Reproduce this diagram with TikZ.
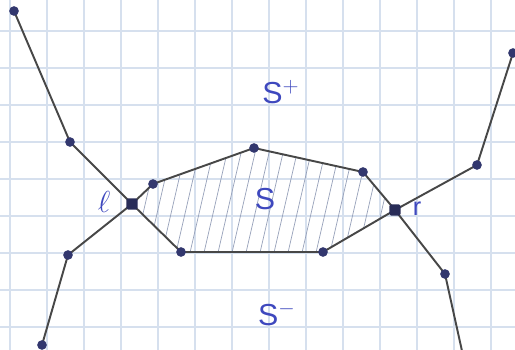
\documentclass[tikz,border=0pt]{standalone}
\usepackage{fontspec}
\setmainfont{Liberation Sans}
\definecolor{gridc}{RGB}{214,224,238}
\definecolor{inkc}{RGB}{62,72,190}
\definecolor{dotc}{RGB}{50,55,110}
\definecolor{hatchc}{RGB}{150,160,185}
\tikzset{
  gridline/.style={draw=gridc, line width=0.6pt},
  edge/.style={draw=black!72, line width=1.1pt},
  dotnode/.style={circle, fill=dotc, inner sep=0pt, minimum size=5.5pt},
  bigdot/.style={rectangle, rounded corners=1pt, fill=dotc!80!black, inner sep=0pt, minimum size=6.5pt},
  lbl/.style={text=inkc, font=\LARGE},
  hatch/.style={draw=hatchc, line width=0.4pt}
}
\begin{document}
\begin{tikzpicture}[x=0.02cm, y=-0.02cm]
\useasboundingbox (0,0) rectangle (515,350);
\fill[white] (0,0) rectangle (515,350);
\clip (0,0) rectangle (515,350);
% grid
\foreach \gx in {10,47,...,515} \draw[gridline] (\gx,0) -- (\gx,350);
\foreach \gy in {31,68,...,350} \draw[gridline] (0,\gy) -- (515,\gy);
% points
\coordinate (L) at (132,204);
\coordinate (A) at (153,184);
\coordinate (B) at (254,148);
\coordinate (C) at (363,172);
\coordinate (R) at (395,210);
\coordinate (D) at (323,252);
\coordinate (E) at (181,252);
\coordinate (P1) at (14,11);
\coordinate (P2) at (70,142);
\coordinate (Q1) at (68,255);
\coordinate (Q2) at (42,345);
\coordinate (U1) at (477,165);
\coordinate (U2) at (513,53);
\coordinate (V1) at (445,274);
\coordinate (V2) at (464,360);
% hatching
\begin{scope}
\clip (L) -- (A) -- (B) -- (C) -- (R) -- (D) -- (E) -- cycle;
\foreach \hx in {60,74,...,480} \draw[hatch] (\hx,270) -- (\hx+30,140);
\end{scope}
% edges
\draw[edge] (P1) -- (P2) -- (L) -- (E) -- (D) -- (R) -- (V1) -- (V2);
\draw[edge] (Q2) -- (Q1) -- (L) -- (A) -- (B) -- (C) -- (R) -- (U1) -- (U2);
% dots
\foreach \p in {P1,P2,Q1,Q2,A,B,C,D,E,U1,U2,V1}
  \node[dotnode] (n\p) at (\p) {};
\node[bigdot] (nL) at (L) {};
\node[bigdot] (nR) at (R) {};
% labels
\node[lbl] (splus) at (281,92) {S$^{+}$};
\node[lbl] (s) at (265,199) {S};
\node[lbl] (sminus) at (277,314) {S$^{-}$};
\node[lbl] (lab) at (104,202) {$\ell$};
\node[lbl, font=\Large] (rab) at (417,209) {r};
\end{tikzpicture}
\end{document}
